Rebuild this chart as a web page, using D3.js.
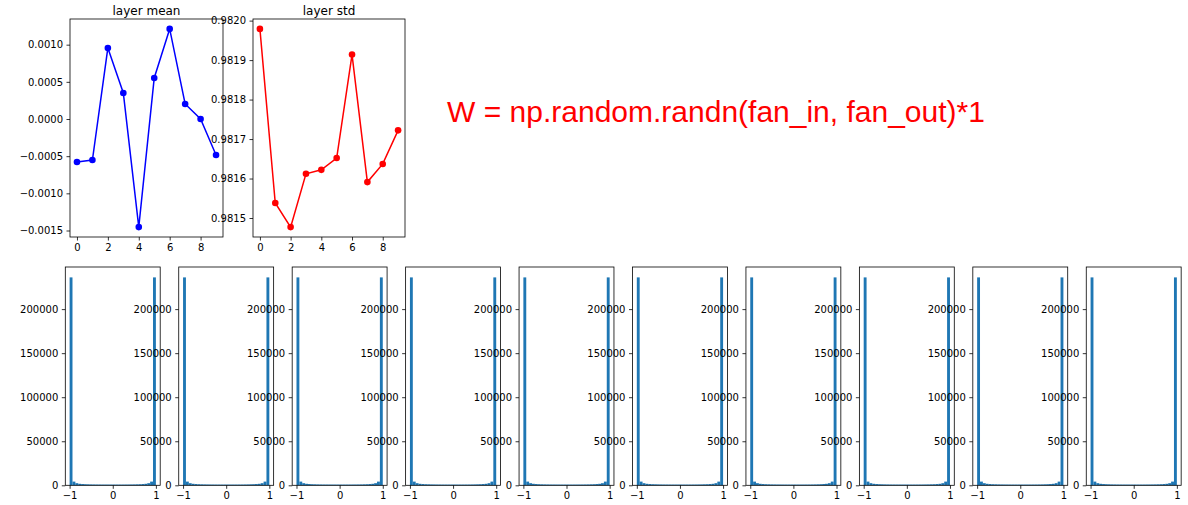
<!DOCTYPE html>
<html>
<head>
<meta charset="utf-8">
<script src="https://cdn.jsdelivr.net/npm/d3@7"></script>
<style>
  html, body { margin: 0; padding: 0; background: #fff; }
  svg { display: block; }
  .tick text { font-family: "DejaVu Sans", sans-serif; font-size: 10px; fill: #000; }
  .tick line { stroke: #000; stroke-width: 0.8; }
</style>
</head>
<body>
<svg id="chart" width="1188" height="505"></svg>
<script>
// ---------- data ----------
const layers = [0, 1, 2, 3, 4, 5, 6, 7, 8, 9];
const layerMeans = [-0.000579, -0.000552, 0.000956, 0.000350, -0.001454, 0.000552, 0.001212, 0.000202, 0.000000, -0.000485];
const layerStds = [0.981979, 0.981538, 0.981477, 0.981612, 0.981622, 0.981652, 0.981914, 0.981591, 0.981637, 0.981722];
const meanTicks = [-0.0015, -0.0010, -0.0005, 0.0000, 0.0005, 0.0010];
const stdTicks = [0.9815, 0.9816, 0.9817, 0.9818, 0.9819, 0.9820];
const layerTicks = [0, 2, 4, 6, 8];
// 30 bins on range (-1, 1), counts per bin (same shape for every layer)
const binCounts = [236000, 4200, 2400, 1700, 1400, 1200, 1100, 1000, 950, 900, 880, 860, 850, 840, 840,
                   840, 840, 850, 860, 880, 900, 950, 1000, 1100, 1200, 1400, 1700, 2400, 4200, 236000];
const histXTicks = [-1, 0, 1];
const histYTicks = [0, 50000, 100000, 150000, 200000];
const annotation = "W = np.random.randn(fan_in, fan_out)*1";

// ---------- helpers ----------
const svg = d3.select("#chart");
const fmtMinus = s => s.replace("-", "\u2212");

function padDomain(vals, frac) {
  const [lo, hi] = d3.extent(vals);
  const p = (hi - lo) * frac;
  return [lo - p, hi + p];
}

function styleAxis(g) {
  g.select(".domain").remove();
  g.selectAll(".tick line").attr("stroke", "#000").attr("stroke-width", 0.8);
}

function frame(g, w, h) {
  g.append("rect").attr("x", 0).attr("y", 0).attr("width", w).attr("height", h)
    .attr("fill", "none").attr("stroke", "#000").attr("stroke-width", 0.8);
}

function linePanel(opts) {
  const { left, top, w, h, values, color, ticks, fmt, title } = opts;
  const g = svg.append("g").attr("transform", `translate(${left},${top})`);
  const x = d3.scaleLinear().domain(padDomain(layers, 0.05)).range([0, w]);
  const y = d3.scaleLinear().domain(padDomain(values, 0.05)).range([h, 0]);

  g.append("g").attr("transform", `translate(0,${h})`)
    .call(d3.axisBottom(x).tickValues(layerTicks).tickSize(3.5).tickPadding(3.5).tickFormat(d3.format("d")))
    .call(styleAxis);
  g.append("g")
    .call(d3.axisLeft(y).tickValues(ticks).tickSize(3.5).tickPadding(3.5).tickFormat(d => fmtMinus(fmt(d))))
    .call(styleAxis);

  const pts = layers.map((l, i) => [l, values[i]]);
  g.append("path").datum(pts)
    .attr("fill", "none").attr("stroke", color).attr("stroke-width", 1.5)
    .attr("d", d3.line().x(d => x(d[0])).y(d => y(d[1])));
  g.selectAll("circle.pt").data(pts).join("circle")
    .attr("class", "pt").attr("cx", d => x(d[0])).attr("cy", d => y(d[1]))
    .attr("r", 3.3).attr("fill", color);

  frame(g, w, h);
  g.append("text").attr("x", w / 2).attr("y", -4.5).attr("text-anchor", "middle")
    .attr("font-family", "DejaVu Sans, sans-serif").attr("font-size", 12).attr("fill", "#000")
    .text(title);
}

// ---------- top panels ----------
linePanel({ left: 70, top: 19, w: 153, h: 218, values: layerMeans, color: "blue",
  ticks: meanTicks, fmt: d3.format(".4f"), title: "layer mean" });
linePanel({ left: 253, top: 19, w: 152, h: 218, values: layerStds, color: "red",
  ticks: stdTicks, fmt: d3.format(".4f"), title: "layer std" });

// ---------- annotation ----------
svg.append("text").attr("x", 716).attr("y", 122).attr("text-anchor", "middle")
  .attr("font-family", "Liberation Sans, Arial, sans-serif").attr("font-size", 30)
  .attr("fill", "red").text(annotation);

// ---------- histograms ----------
const nBins = binCounts.length;
const binEdges = d3.range(nBins + 1).map(i => -1 + 2 * i / nBins);
const histLeft0 = 65.3, histStep = 113.44, histW = 94.9, histTop = 267, histH = 218.3;

layers.forEach((layer, li) => {
  const g = svg.append("g").attr("transform", `translate(${histLeft0 + li * histStep},${histTop})`);
  const x = d3.scaleLinear().domain([-1.1, 1.1]).range([0, histW]);
  const y = d3.scaleLinear().domain([0, d3.max(binCounts) * 1.05]).range([histH, 0]);

  g.selectAll("rect.bar").data(binCounts).join("rect")
    .attr("class", "bar")
    .attr("x", (d, i) => x(binEdges[i]))
    .attr("width", (d, i) => x(binEdges[i + 1]) - x(binEdges[i]))
    .attr("y", d => y(d))
    .attr("height", d => y(0) - y(d))
    .attr("fill", "#1f77b4");

  g.append("g").attr("transform", `translate(0,${histH})`)
    .call(d3.axisBottom(x).tickValues(histXTicks).tickSize(3.5).tickPadding(3.5).tickFormat(d => fmtMinus(String(d))))
    .call(styleAxis);
  g.append("g")
    .call(d3.axisLeft(y).tickValues(histYTicks).tickSize(3.5).tickPadding(3.5).tickFormat(d => String(d)))
    .call(styleAxis);

  frame(g, histW, histH);
});
</script>
</body>
</html>
